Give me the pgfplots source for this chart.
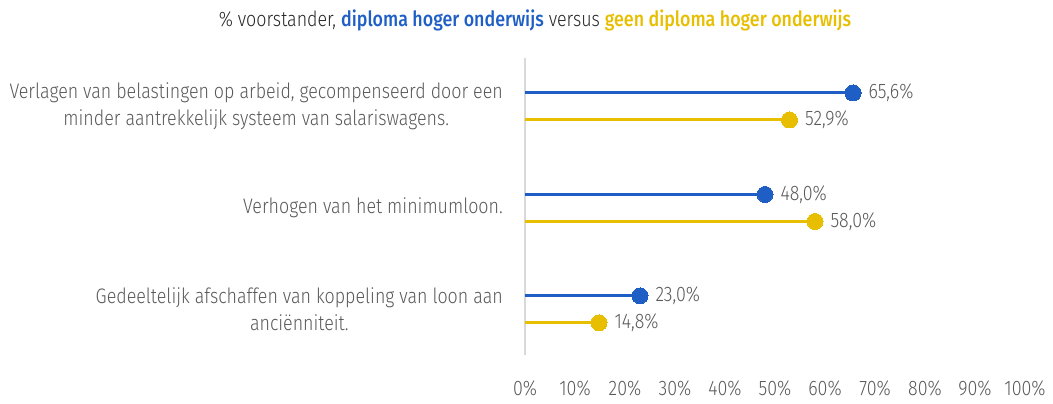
\documentclass[border=0pt]{standalone}
\usepackage{pgfplots}
\pgfplotsset{compat=1.18}
\usepackage{fontspec}
\IfFontExistsTF{Fira Sans Light}{%
\setmainfont{Fira Sans}[UprightFont=* Light, BoldFont=* Medium, FakeStretch=0.85]}{%
\setmainfont{Fira Sans}[FakeStretch=0.85]}
\definecolor{blu}{RGB}{31,95,197}
\definecolor{yel}{RGB}{231,190,0}
\definecolor{txt}{RGB}{89,89,89}
\definecolor{ttl}{RGB}{38,38,38}
\definecolor{axl}{RGB}{217,217,217}
\begin{document}
\begin{tikzpicture}[x=1bp,y=1bp]
\useasboundingbox (0,0) rectangle (1053,403);
\node[font=\fontsize{21bp}{24bp}\selectfont, text=ttl, inner sep=0] at (535,383)
 {\% voorstander, {\bfseries\color{blu}diploma hoger onderwijs} versus {\bfseries\color{yel}geen diploma hoger onderwijs}};
\begin{axis}[
 at={(525bp,48bp)}, anchor=south west, scale only axis,
 width=500bp, height=297bp,
 xmin=0, xmax=100, ymin=-0.45, ymax=2.478,
 axis line style={draw=none},
 major tick length=0,
 xtick={0,10,...,100},
 xticklabels={0\%,10\%,20\%,30\%,40\%,50\%,60\%,70\%,80\%,90\%,100\%},
 xticklabel style={font=\fontsize{21bp}{24bp}\selectfont, text=txt, inner sep=0, anchor=north, yshift=-26bp},
 ytick={0,1,2},
 yticklabels={{Gedeeltelijk afschaffen van koppeling van loon aan\\anciënniteit.},{Verhogen van het minimumloon.},{Verlagen van belastingen op arbeid, gecompenseerd door een\\minder aantrekkelijk systeem van salariswagens.}},
 yticklabel style={font=\fontsize{21bp}{27bp}\selectfont, text=txt, inner sep=0, align=center, anchor=east, xshift=-22bp},
 clip=false,
 nodes near coords,
 point meta=explicit symbolic,
 nodes near coords style={font=\fontsize{21bp}{24bp}\selectfont, text=txt, anchor=west, inner sep=0, xshift=15.5bp},
]
\draw[axl, line width=1.5bp] (axis cs:0,-0.45) -- (axis cs:0,2.478);
\addplot[xcomb, blu, line width=3bp, mark=*, mark size=8bp, mark options={fill=blu, draw=blu, line width=0}]
 coordinates {(65.6,2.133) [65,6\%] (48.0,1.133) [48,0\%] (23.0,0.133) [23,0\%]};
\addplot[xcomb, yel, line width=3bp, mark=*, mark size=8bp, mark options={fill=yel, draw=yel, line width=0}]
 coordinates {(52.9,1.867) [52,9\%] (58.0,0.867) [58,0\%] (14.8,-0.133) [14,8\%]};
\end{axis}
\end{tikzpicture}
\end{document}
